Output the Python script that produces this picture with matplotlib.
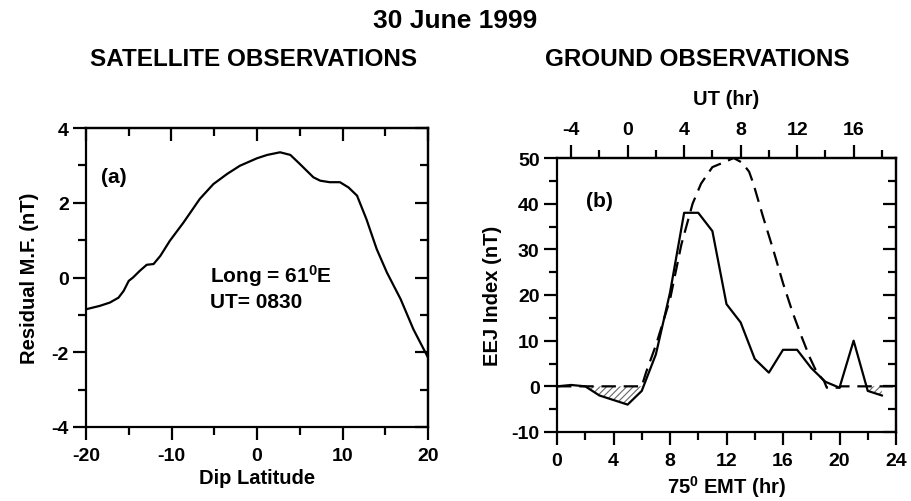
import matplotlib
matplotlib.use("Agg")
import matplotlib.pyplot as plt
from matplotlib.ticker import MultipleLocator, FixedLocator
import numpy as np

plt.rcParams['font.family'] = ['Liberation Sans', 'DejaVu Sans']
plt.rcParams['font.weight'] = 'bold'
plt.rcParams['axes.labelweight'] = 'bold'
plt.rcParams['axes.unicode_minus'] = False
plt.rcParams['mathtext.fontset'] = 'custom'
plt.rcParams['mathtext.rm'] = 'Liberation Sans:bold'
plt.rcParams['mathtext.bf'] = 'Liberation Sans:bold'
plt.rcParams['mathtext.default'] = 'bf'
plt.rcParams['hatch.color'] = '#666666'
plt.rcParams['hatch.linewidth'] = 0.8

# ---- data ----
dip_lat = [-20, -18.4, -17.2, -16.2, -15.6, -15.0, -14.5, -13.7, -12.9, -12.1, -11.3,
           -10.2, -8.6, -6.7, -5.1, -3.5, -2.0, 0.0, 1.2, 2.7, 3.9, 5.0, 6.6, 7.4,
           8.5, 9.7, 10.7, 11.7, 12.8, 14.0, 15.2, 16.8, 18.3, 20.0]
residual_mf = [-0.85, -0.76, -0.67, -0.54, -0.36, -0.09, 0.0, 0.18, 0.34, 0.36, 0.58,
               0.98, 1.47, 2.10, 2.50, 2.77, 2.99, 3.19, 3.28, 3.35, 3.28, 3.04, 2.68, 2.59,
               2.55, 2.55, 2.41, 2.19, 1.56, 0.76, 0.13, -0.58, -1.39, -2.14]

emt_hours = list(range(0, 24))
eej_index = [0, 0.3, 0, -2, -3, -4, -1, 7, 20.5, 38, 38, 34, 18, 14, 6, 3, 8, 8, 4, 1,
             -0.3, 10, -1, -2]

model_hours = [0, 6.0, 6.3, 7.0, 8.0, 8.8, 9.6, 10.2, 11.0, 12.0, 12.5, 13.1, 13.6, 13.9,
               14.6, 15.3, 16.0, 16.7, 17.3, 17.9, 18.4, 18.9, 19.1, 20.0, 20.1, 23.8]
model_eej = [0, 0, 3, 9, 19, 31, 40, 44.4, 48, 49.3, 50, 49, 47, 44.4,
             37, 30, 22.6, 16, 11, 6.3, 3, 1.2, -0.3, -0.3, 0, 0]

ut_ticks = [-4, 0, 4, 8, 12, 16]
emt_to_ut = 5

# ---- figure ----
W, H = 911, 502
fig = plt.figure(figsize=(W / 100, H / 100), dpi=100)

LW = 1.6
MAJ, MIN = 9.5, 5.5
TFS = 14


def style_ticks(axis_obj, direction, **kw):
    axis_obj.tick_params(which='major', direction=direction, length=MAJ, width=LW, **kw)
    axis_obj.tick_params(which='minor', direction=direction, length=MIN, width=LW, **kw)


# ---- panel (a) ----
axa = fig.add_axes([86 / W, 1 - 428 / H, 342 / W, 299 / H])
axa.plot(dip_lat, residual_mf, color='black', lw=LW)
axa.set_xlim(-20, 20)
axa.set_ylim(-4, 4)
axa.xaxis.set_major_locator(MultipleLocator(10))
axa.xaxis.set_minor_locator(MultipleLocator(5))
axa.yaxis.set_major_locator(MultipleLocator(2))
axa.yaxis.set_minor_locator(MultipleLocator(1))
style_ticks(axa, 'out', labelsize=TFS)
axa.tick_params(axis='x', which='both', pad=5)
axa.tick_params(axis='y', which='both', pad=3)
for s in axa.spines.values():
    s.set_linewidth(LW)

secx_a = axa.secondary_xaxis('top')
secx_a.xaxis.set_major_locator(MultipleLocator(10))
secx_a.xaxis.set_minor_locator(MultipleLocator(5))
style_ticks(secx_a, 'in', labeltop=False)
secx_a.spines['top'].set_linewidth(LW)
secy_a = axa.secondary_yaxis('right')
secy_a.yaxis.set_major_locator(MultipleLocator(2))
secy_a.yaxis.set_minor_locator(MultipleLocator(1))
style_ticks(secy_a, 'in', labelright=False)
secy_a.spines['right'].set_linewidth(LW)

axa.set_xlabel('Dip Latitude', fontsize=14.5, labelpad=3)
axa.set_ylabel('Residual M.F. (nT)', fontsize=14.5, labelpad=9)
axa.text(-16.8, 2.69, '(a)', fontsize=15, ha='center', va='center')
axa.text(-5.5, 0.07, r'Long = 61$^{0}$E', fontsize=15, ha='left', va='center')
axa.text(-5.5, -0.63, 'UT= 0830', fontsize=15, ha='left', va='center')

# ---- panel (b) ----
axb = fig.add_axes([557 / W, 1 - 433 / H, 339 / W, 274 / H])
e = np.array(emt_hours, dtype=float)
v = np.array(eej_index, dtype=float)
axb.fill_between(e, v, 0, where=v <= 0, interpolate=True, facecolor='none',
                 edgecolor='#666666', hatch='/////', linewidth=0)
axb.plot(model_hours, model_eej, color='black', lw=LW, linestyle=(0, (6.5, 3.5)))
axb.plot(emt_hours, eej_index, color='black', lw=LW)
axb.set_xlim(0, 24)
axb.set_ylim(-10, 50)
axb.xaxis.set_major_locator(MultipleLocator(4))
axb.xaxis.set_minor_locator(MultipleLocator(2))
axb.yaxis.set_major_locator(MultipleLocator(10))
axb.yaxis.set_minor_locator(MultipleLocator(5))
style_ticks(axb, 'out', labelsize=TFS)
axb.tick_params(axis='x', which='both', pad=5)
axb.tick_params(axis='y', which='both', pad=3)
for s in axb.spines.values():
    s.set_linewidth(LW)

secx_b = axb.secondary_xaxis('top', functions=(lambda x: x - emt_to_ut,
                                                lambda x: x + emt_to_ut))
secx_b.xaxis.set_major_locator(FixedLocator(ut_ticks))
secx_b.xaxis.set_minor_locator(MultipleLocator(2))
style_ticks(secx_b, 'out', labelsize=TFS, pad=5)
secx_b.spines['top'].set_linewidth(LW)
secx_b.set_xlabel('UT (hr)', fontsize=14.5, labelpad=12)

secy_b = axb.secondary_yaxis('right')
secy_b.yaxis.set_major_locator(MultipleLocator(10))
secy_b.yaxis.set_minor_locator(MultipleLocator(5))
style_ticks(secy_b, 'in', labelright=False)
secy_b.spines['right'].set_linewidth(LW)

axb.set_xlabel(r'75$^{0}$ EMT (hr)', fontsize=14.5, labelpad=3)
axb.set_ylabel('EEJ Index (nT)', fontsize=14.5, labelpad=7)
axb.text(2.97, 40.8, '(b)', fontsize=15, ha='center', va='center')

# ---- titles ----
fig.text(455 / W, 1 - 21 / H, '30 June 1999', fontsize=19, ha='center', va='center')
fig.text(254 / W, 1 - 59 / H, 'SATELLITE OBSERVATIONS', fontsize=17.5, ha='center', va='center')
fig.text(697 / W, 1 - 59 / H, 'GROUND OBSERVATIONS', fontsize=17.5, ha='center', va='center')

fig.savefig('out.png', dpi=100)
